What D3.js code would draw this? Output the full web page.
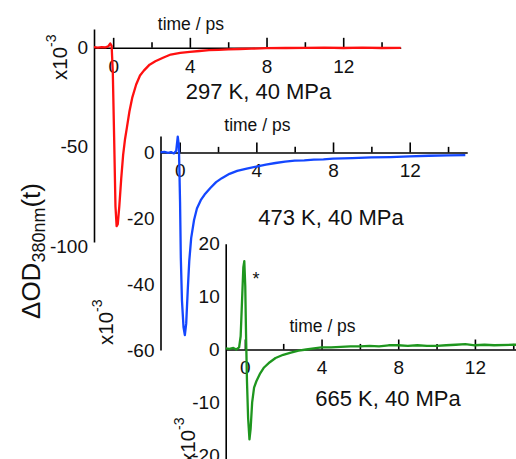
<!DOCTYPE html>
<html>
<head>
<meta charset="utf-8">
<script src="https://cdn.jsdelivr.net/npm/d3@7"></script>
<style>
    body { margin: 0; background: #fff; }
    svg { display: block; font-family: "Liberation Sans", Arial, sans-serif; }
</style>
</head>
<body>
<div id="canvas"></div>
<script>
/**
 * Data, time in ps, signal in units of 1e-3
 */
const majorTicks = [0, 4, 8, 12];
const minorTicks = [2, 6, 10, 14];

const time297 = [-1.0, -0.8, -0.6, -0.4, -0.25, -0.15, -0.08, -0.02, 0.05, 0.12, 0.18, 0.24, 0.32, 0.42, 0.52,
    0.62, 0.72, 0.85, 1.0, 1.2, 1.4, 1.6, 1.9, 2.2, 2.6, 3.0, 3.5, 4.0, 4.5, 5.0, 5.5, 6.0, 6.6, 7.2, 8.0,
    9.0, 10.0, 11.0, 12.0, 13.0, 14.0, 15.0];
const signal297 = [0.3, 0.1, 0.4, 0.2, 0.8, 2.2, 1.0, -12, -45, -80, -90, -89, -80, -66, -54,
    -46, -40, -32, -25, -18.5, -14, -11.5, -8.5, -6.8, -5.0, -3.4, -2.6, -2.0, -1.6, -1.2, -1.0, -0.8, -0.6, -0.4, -0.2,
    -0.1, 0.0, 0.1, -0.1, 0.1, -0.1, 0.0];

const time473 = [-1.0, -0.8, -0.6, -0.45, -0.3, -0.18, -0.1, -0.04, 0.02, 0.06, 0.12, 0.2, 0.27, 0.34, 0.42,
    0.5, 0.6, 0.75, 0.9, 1.1, 1.3, 1.6, 1.9, 2.2, 2.6, 3.0, 3.5, 4.0, 4.5, 5.0, 5.5, 6.0, 6.5, 7.0, 7.5,
    8.0, 9.0, 10.0, 11.0, 12.0, 13.0, 14.0, 14.9];
const signal473 = [0.0, 0.2, -0.1, 0.1, -0.3, 0.5, 4.8, 2.0, -15, -32, -45, -53, -55.5, -52, -42,
    -33, -26, -20.5, -17, -14.5, -12.8, -10.8, -9.0, -7.8, -6.5, -5.6, -4.9, -4.3, -3.7, -3.2, -2.8, -2.5, -2.4, -2.2, -2.1,
    -1.9, -1.7, -1.5, -1.4, -1.2, -1.0, -0.9, -0.8];

const time665 = [-1.0, -0.8, -0.6, -0.45, -0.3, -0.22, -0.15, -0.08, -0.03, 0.02, 0.06, 0.11, 0.17, 0.24, 0.3,
    0.38, 0.48, 0.6, 0.8, 1.0, 1.3, 1.6, 2.0, 2.4, 2.8, 3.2, 3.6, 4.0, 4.5, 5.0, 5.5, 6.0, 6.5, 7.0, 7.5,
    8.0, 8.5, 9.0, 9.5, 10.0, 10.5, 11.0, 11.5, 12.0, 12.5, 13.0, 14.0, 15.0];
const signal665 = [0.2, 0.1, 0.3, 0.0, 0.4, 2.5, 9, 15.5, 16.7, 12, 3, -6, -13, -17, -15,
    -10, -7.2, -6.0, -4.5, -3.4, -2.4, -1.6, -1.0, -0.6, -0.2, 0.0, 0.2, 0.4, 0.4, 0.5, 0.6, 0.6, 0.7, 0.6, 0.8,
    0.8, 0.7, 0.8, 0.7, 0.7, 0.8, 0.9, 1.0, 0.8, 0.9, 0.8, 0.9, 0.9];

const panels = [
    {label: "297 K, 40 MPa", time: time297, signal: signal297, color: "#ff1010",
     left: 94, yTop: 29, yBottom: 242, yDomain: [-98, 9.5], yTicks: [0, -50, -100],
     titleDy: -18, labelX: 258.5, labelY: 99, expX: 66.5, expY: 80},
    {label: "473 K, 40 MPa", time: time473, signal: signal473, color: "#1447ff",
     left: 160.5, yTop: 136, yBottom: 350, yDomain: [-60, 5], yTicks: [0, -20, -40, -60],
     titleDy: -21, labelX: 331, labelY: 225, expX: 112.5, expY: 345},
    {label: "665 K, 40 MPa", time: time665, signal: signal665, color: "#1e961e",
     left: 225.7, yTop: 243.7, yBottom: 460.6, yDomain: [-21, 20], yTicks: [20, 10, 0, -10, -20],
     titleDy: -17.6, labelX: 388, labelY: 405.7, expX: 195, expY: 463}
];

const width = 516;
const height = 459;

let svg = d3.select("#canvas")
    .append("svg")
    .attr("width", width)
    .attr("height", height);

function drawPanel(p) {
    let x = d3.scaleLinear()
        .domain([-1, 15])
        .range([p.left, p.left + 16 * 19.17]);
    let y = d3.scaleLinear()
        .domain(p.yDomain)
        .range([p.yBottom, p.yTop]);
    let y0 = y(0);

    let g = svg.append("g");

    // y axis: line and labels only
    let yAxis = g.append("g")
        .attr("transform", "translate(" + p.left + ",0)")
        .call(d3.axisLeft(y).tickValues(p.yTicks).tickSize(0).tickSizeOuter(0).tickPadding(6)
            .tickFormat(d => String(d)));
    yAxis.select(".domain").attr("stroke-width", 1.6);
    yAxis.selectAll("text").attr("font-size", 19).attr("font-family", null).attr("fill", "#111");

    // x axis at zero, ticks pointing up
    let xAxis = g.append("g")
        .attr("transform", "translate(0," + y0 + ")")
        .call(d3.axisBottom(x).tickValues(majorTicks).tickSize(-10).tickSizeOuter(0).tickPadding(11.5)
            .tickFormat(d => String(d)));
    xAxis.select(".domain").attr("stroke-width", 1.6);
    xAxis.selectAll("line").attr("stroke-width", 1.6);
    xAxis.selectAll("text").attr("font-size", 19).attr("font-family", null).attr("fill", "#111");

    let minor = g.append("g")
        .attr("transform", "translate(0," + y0 + ")")
        .call(d3.axisBottom(x).tickValues(minorTicks).tickSize(-5.6).tickSizeOuter(0).tickFormat(""));
    minor.select(".domain").remove();
    minor.selectAll("line").attr("stroke-width", 1.6);

    g.append("text")
        .attr("x", x(4.0) + 1)
        .attr("y", y0 + p.titleDy)
        .attr("text-anchor", "middle")
        .attr("font-size", 17.5)
        .attr("fill", "#111")
        .text("time / ps");

    g.append("text")
        .attr("x", p.labelX)
        .attr("y", p.labelY)
        .attr("text-anchor", "middle")
        .attr("font-size", 22)
        .attr("fill", "#111")
        .text(p.label);

    let exp = g.append("text")
        .attr("transform", "translate(" + p.expX + "," + p.expY + ") rotate(-90)")
        .attr("font-size", 20.5)
        .attr("fill", "#111");
    exp.append("tspan").text("x10");
    exp.append("tspan").attr("font-size", 14).attr("dy", -11).text("-3");

    let points = p.time.map((t, i) => ({t: t, v: p.signal[i]}));
    g.append("path")
        .datum(points)
        .attr("fill", "none")
        .attr("stroke", p.color)
        .attr("stroke-width", 2.3)
        .attr("stroke-linejoin", "round")
        .attr("d", d3.line()
            .x(function(d) { return x(d.t) })
            .y(function(d) { return y(d.v) })
        );

    return {x: x, y: y};
}

panels.forEach(p => drawPanel(p));

// asterisk on the green spike
svg.append("text")
    .attr("x", 256)
    .attr("y", 285)
    .attr("text-anchor", "middle")
    .attr("font-size", 18)
    .attr("fill", "#111")
    .text("*");

// shared y label
let ylab = svg.append("text")
    .attr("transform", "translate(40,251) rotate(-90)")
    .attr("text-anchor", "middle")
    .attr("font-size", 26)
    .attr("fill", "#111");
ylab.append("tspan").text("ΔOD");
ylab.append("tspan").attr("font-size", 18).attr("dy", 5).text("380nm");
ylab.append("tspan").attr("dy", -5).text("(t)");
</script>
</body>
</html>
